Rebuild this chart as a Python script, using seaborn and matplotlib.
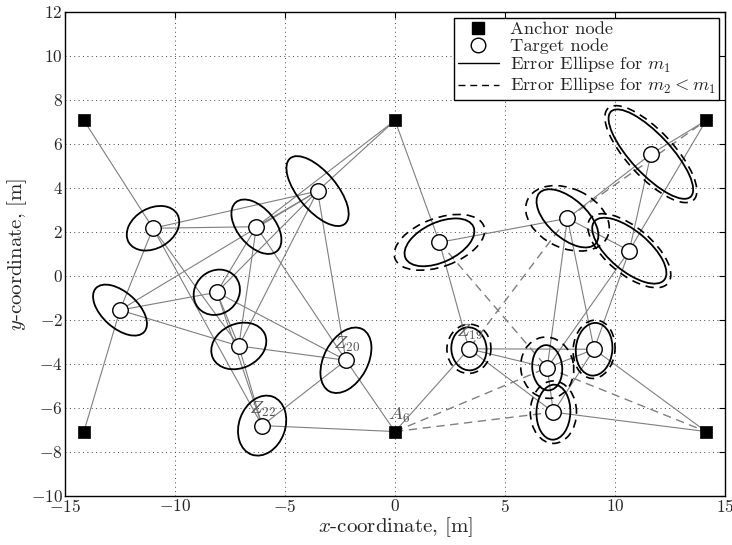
import numpy as np
import pandas as pd
import matplotlib
matplotlib.use("Agg")
import matplotlib.pyplot as plt
from matplotlib.patches import Ellipse
from matplotlib.lines import Line2D
import seaborn as sns

# Anchor positions [m]
anchor_names = ["A1", "A2", "A3", "A4", "A6", "A7"]
anchor_x = [-14.14, 0.0, 14.14, -14.14, 0.0, 14.14]
anchor_y = [7.07, 7.07, 7.07, -7.07, -7.07, -7.07]

# Target positions [m]
target_names = ["T1", "T2", "T3", "T4", "T5", "T6", "Z20", "Z22",
                "T9", "T10", "T11", "T12", "Z19", "T14", "T15", "T16"]
target_x = [-11.0, -6.3, -3.52, -8.1, -12.5, -7.1, -2.23, -6.04,
            2.02, 7.84, 11.63, 10.65, 3.36, 6.92, 9.05, 7.2]
target_y = [2.17, 2.24, 3.86, -0.74, -1.55, -3.18, -3.83, -6.8,
            1.53, 2.62, 5.54, 1.15, -3.31, -4.17, -3.33, -6.19]

# Error ellipses for m1 (full width, full height, angle in degrees)
ell1_w = [2.55, 2.9, 3.88, 2.2, 2.96, 2.6, 3.2, 2.8,
          3.4, 3.44, 5.3, 4.14, 1.96, 2.06, 2.4, 2.5]
ell1_h = [1.82, 1.7, 1.75, 1.96, 1.62, 2.0, 2.0, 2.1,
          1.8, 1.76, 1.8, 1.8, 1.6, 1.36, 1.66, 1.54]
ell1_a = [30, 130, 130, 40, 138, 25, 62, 70,
          25, 138, 133, 140, 95, 95, 85, 88]

# Error ellipses for m2 < m1 (right-hand cluster only)
ell2_names = ["T9", "T10", "T11", "T12", "Z19", "T14", "T15", "T16"]
ell2_w = [4.3, 4.0, 5.7, 4.6, 2.24, 2.8, 2.66, 2.84]
ell2_h = [2.2, 2.7, 2.1, 2.1, 2.0, 2.4, 1.9, 2.1]
ell2_a = [20, 155, 133, 140, 85, 100, 85, 90]

# Range measurements used with m1 (solid) and only with m2 (dashed)
solid_links = [
    ("A1", "T1"), ("A4", "T5"), ("A2", "T3"), ("A2", "T2"), ("A2", "T9"),
    ("T1", "T2"), ("T1", "T3"), ("T1", "T5"), ("T1", "T6"), ("T1", "Z22"),
    ("T2", "T3"), ("T2", "T4"), ("T2", "T6"), ("T2", "Z20"),
    ("T3", "T4"), ("T3", "T5"), ("T3", "T6"), ("T3", "Z20"),
    ("T4", "T5"), ("T4", "T6"), ("T4", "Z20"), ("T4", "Z22"),
    ("T5", "T6"), ("T6", "Z20"), ("T6", "Z22"),
    ("Z20", "Z22"), ("Z20", "A6"), ("Z22", "A6"),
    ("T9", "T10"), ("T9", "Z19"),
    ("T10", "T11"), ("T10", "T12"), ("T10", "T14"), ("T10", "T15"),
    ("T11", "A3"), ("T11", "T12"),
    ("T12", "A3"), ("T12", "T14"), ("T12", "T15"),
    ("Z19", "A6"), ("Z19", "T14"), ("Z19", "T15"), ("Z19", "T16"),
    ("T14", "T15"), ("T14", "T16"), ("T15", "T16"),
    ("T15", "A7"), ("T16", "A7"),
]
dashed_links = [
    ("T9", "T14"), ("T10", "Z19"), ("T10", "A3"),
    ("A6", "T14"), ("A6", "T16"), ("T14", "A7"),
]

# Node labels drawn next to the markers
node_labels = {"Z20": r"$Z_{20}$", "Z22": r"$Z_{22}$", "Z19": r"$Z_{19}$", "A6": r"$A_6$"}

sns.set_theme(style="white")
plt.rcParams.update({
    "font.family": ["cmr10"],
    "mathtext.fontset": "cm",
    "axes.formatter.use_mathtext": True,
    "axes.unicode_minus": True,
})

anchors = pd.DataFrame({"name": anchor_names, "x": anchor_x, "y": anchor_y})
targets = pd.DataFrame({"name": target_names, "x": target_x, "y": target_y})
pos = {n: (x, y) for n, x, y in zip(anchor_names, anchor_x, anchor_y)}
pos.update({n: (x, y) for n, x, y in zip(target_names, target_x, target_y)})

fig = plt.figure(figsize=(7.32, 5.45), dpi=100)
ax = fig.add_axes([65 / 732, 49 / 545, 660 / 732, 484 / 545])

link_color = "#7f7f7f"
for a, b in solid_links:
    ax.plot([pos[a][0], pos[b][0]], [pos[a][1], pos[b][1]],
            color=link_color, lw=0.8, zorder=1)
for a, b in dashed_links:
    ax.plot([pos[a][0], pos[b][0]], [pos[a][1], pos[b][1]],
            color=link_color, lw=1.0, ls=(0, (6, 4)), zorder=1)

for x, y, w, h, ang in zip(target_x, target_y, ell1_w, ell1_h, ell1_a):
    ax.add_patch(Ellipse((x, y), w, h, angle=ang, fill=False,
                         ec="black", lw=1.3, zorder=2))
for n, w, h, ang in zip(ell2_names, ell2_w, ell2_h, ell2_a):
    ax.add_patch(Ellipse(pos[n], w, h, angle=ang, fill=False,
                         ec="black", lw=1.2, ls=(0, (5, 3.5)), zorder=2))

sns.scatterplot(data=anchors, x="x", y="y", marker="s", s=80, color="black",
                edgecolor="black", linewidth=0.5, ax=ax, zorder=4, legend=False)
sns.scatterplot(data=targets, x="x", y="y", marker="o", s=125, color="white",
                edgecolor="black", linewidth=1.0, ax=ax, zorder=4, legend=False)

for n, txt in node_labels.items():
    x, y = pos[n]
    dx = -0.3 if n == "A6" else -0.6
    ax.text(x + dx, y + 0.3, txt, color="#555555", fontsize=13.5,
            ha="left", va="bottom", zorder=5)

ax.set_xlim(-15, 15)
ax.set_ylim(-10, 12)
ax.set_xticks(np.arange(-15, 16, 5))
ax.set_yticks(np.arange(-10, 13, 2))
ax.grid(True, color="#444444", ls=(0, (1, 3.5)), lw=0.7)
ax.tick_params(direction="in", length=4, width=0.8, top=True, right=True,
               labelsize=12.5, pad=1.5, color="black")
for sp in ax.spines.values():
    sp.set_color("black")
    sp.set_linewidth(1.0)
ax.set_xlabel(r"$x$-coordinate, [m]", fontsize=15, labelpad=0)
ax.set_ylabel(r"$y$-coordinate, [m]", fontsize=15, labelpad=1)

handles = [
    Line2D([], [], ls="none", marker="s", ms=8, color="black"),
    Line2D([], [], ls="none", marker="o", ms=10.5, mfc="white", mec="black", mew=1.0),
    Line2D([], [], color="black", lw=1.0),
    Line2D([], [], color="black", lw=1.0, ls=(0, (5, 3.5))),
]
labels = ["Anchor node", "Target node", r"Error Ellipse for $m_1$",
          r"Error Ellipse for $m_2 < m_1$"]
leg = ax.legend(handles, labels, loc="upper right", fontsize=13.3,
                frameon=True, fancybox=False, framealpha=1, edgecolor="black",
                borderaxespad=0.3, handlelength=2.2, handletextpad=0.6,
                labelspacing=0.05, borderpad=0.2)
leg.get_frame().set_linewidth(1.0)

fig.savefig("out.png", dpi=100)
